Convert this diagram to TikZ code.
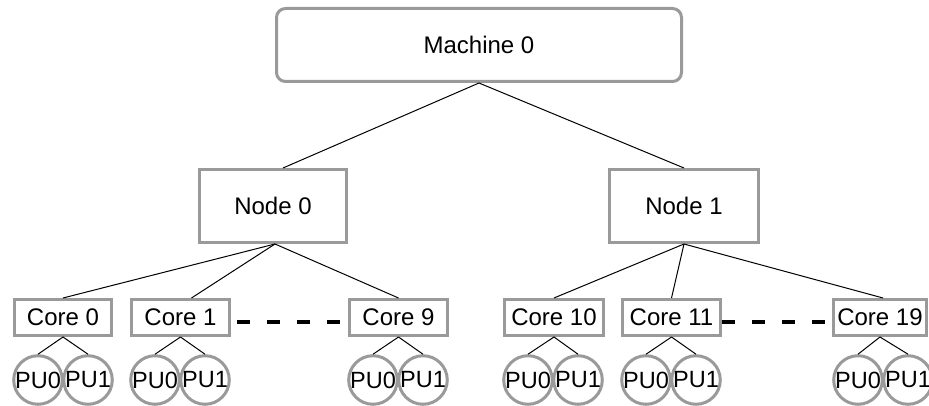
\documentclass[tikz,border=0pt]{standalone}
\usepackage{fontspec}
\setmainfont{Liberation Sans}
\definecolor{boxgray}{HTML}{9A9A9A}
\begin{document}
\begin{tikzpicture}[x=1pt,y=-1pt,
  lbl/.style={font=\fontsize{24}{28}\selectfont, text=black},
  box/.style={lbl, draw=boxgray, line width=3pt, fill=white, inner sep=0pt},
  pu/.style={lbl, font=\fontsize{23.5}{28}\selectfont, circle, draw=boxgray, line width=3pt,
             fill=white, inner sep=0pt, minimum size=47pt},
  link/.style={draw=black, line width=1pt},
  gap/.style={draw=black, line width=4pt, dash pattern=on 13pt off 17pt}]
\useasboundingbox (0,0) rectangle (929,406);

% machine and NUMA nodes
\node[box, rounded corners=9pt, minimum width=405pt, minimum height=73pt] (m) at (479,45) {Machine 0};
\node[box, minimum width=147pt, minimum height=73pt] (n0) at (273,206) {Node 0};
\node[box, minimum width=149pt, minimum height=73pt] (n1) at (684,206) {Node 1};

% cores
\foreach \nm/\x/\w/\txt in {c0/63/97/Core 0, c1/180.5/98/Core 1, c9/398.5/98/Core 9,
                             c10/554/99/Core 10, c11/671.5/98/Core 11, c19/880/93/Core 19}
  \node[box, minimum width=\w pt, minimum height=36pt] (\nm) at (\x,317.5) {\txt};

% tree links
\draw[link] (m.south) -- ([xshift=10pt]n0.north);
\draw[link] (m.south) -- (n1.north);
\draw[link] ([xshift=2pt]n0.south) -- (c0.north);
\draw[link] ([xshift=2pt]n0.south) -- ([xshift=11pt]c1.north);
\draw[link] ([xshift=2pt]n0.south) -- (c9.north);
\draw[link] (n1.south) -- (c10.north);
\draw[link] (n1.south) -- (c11.north);
\draw[link] (n1.south) -- ([xshift=3pt]c19.north);

% elided cores
\draw[gap, dash phase=24pt] ([yshift=-4pt]c1.east) -- ([yshift=-4pt]c9.west);
\draw[gap] ([yshift=-4pt]c11.east) -- ([yshift=-4pt]c19.west);

% processing units
\foreach \nm/\a/\b in {c0/38/88, c1/155/205, c9/373/423, c10/528/578, c11/646/696, c19/858/908} {
  \node[pu] (\nm-0) at (\a,380) {PU0};
  \node[pu] (\nm-1) at (\b,380) {PU1};
  \draw[link] (\nm.south) -- (\nm-0.north);
  \draw[link] (\nm.south) -- (\nm-1.north);
}
\end{tikzpicture}
\end{document}
